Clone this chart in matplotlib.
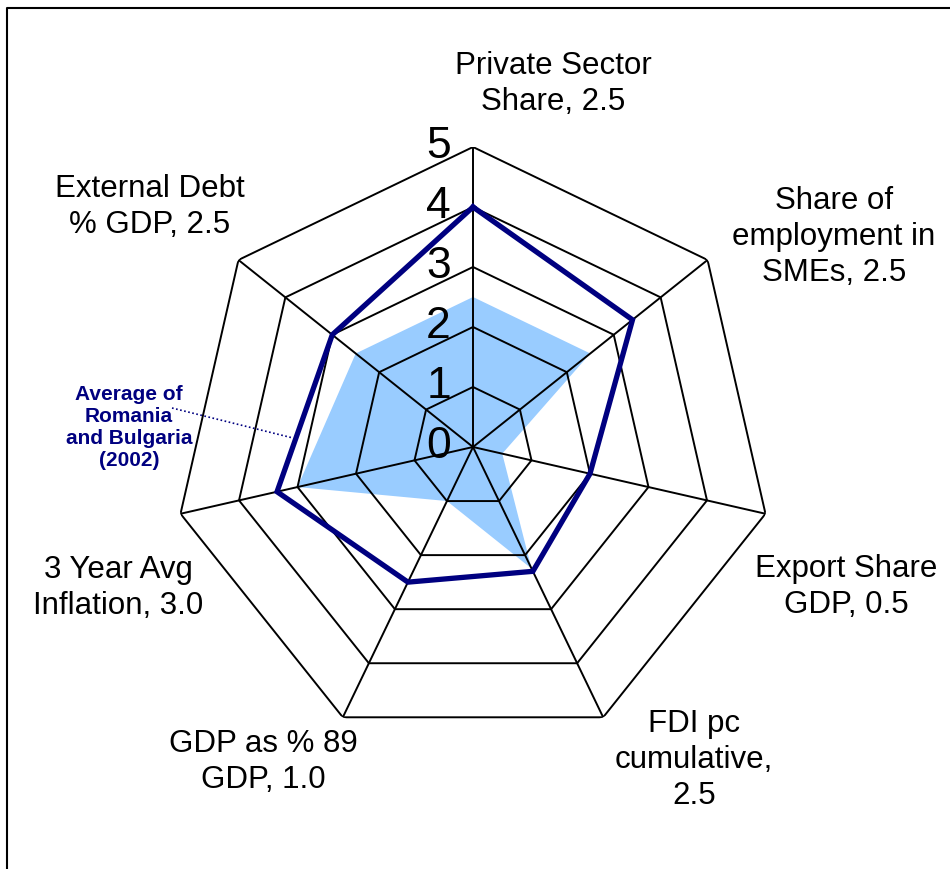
import matplotlib
matplotlib.use("Agg")
import matplotlib.pyplot as plt
import numpy as np
from matplotlib.lines import Line2D

plt.rcParams['font.family'] = ['Liberation Sans', 'DejaVu Sans']

# data
categories = ["Private Sector\nShare, 2.5",
              "Share of\nemployment in\nSMEs, 2.5",
              "Export Share\nGDP, 0.5",
              "FDI pc\ncumulative,\n2.5",
              "GDP as % 89\nGDP, 1.0",
              "3 Year Avg\nInflation, 3.0",
              "External Debt\n% GDP, 2.5"]
country = [2.5, 2.5, 0.5, 2.25, 1.0, 3.0, 2.5]
avg_ro_bg = [4.0, 3.4, 2.0, 2.3, 2.5, 3.35, 3.0]
rings = [0, 1, 2, 3, 4, 5]
series_label = "Average of\nRomania\nand Bulgaria\n(2002)"

# label centres in pixels (x, y from top)
label_px = [(553, 84), (834, 237), (846, 587), (694, 760),
            (263, 762), (118, 588), (150, 207)]

W, H = 950, 869
fig = plt.figure(figsize=(W / 100, H / 100), dpi=100)

cx, cy, R = 473, 447, 300
ax = fig.add_axes([(cx - R) / W, 1 - (cy + R) / H, 2 * R / W, 2 * R / H],
                  projection='polar')
ax.set_theta_offset(np.pi / 2)
ax.set_theta_direction(-1)
ax.set_ylim(0, 5)
ax.grid(False)
ax.set_xticks([])
ax.set_yticks([])
ax.spines['polar'].set_visible(False)
ax.patch.set_visible(False)

n = len(categories)
theta = np.arange(n) * 2 * np.pi / n
tc = np.append(theta, theta[0])

def closed(v):
    return list(v) + [v[0]]

# light blue filled series
ax.fill(tc, closed(country), color='#99CCFF', lw=0, zorder=1)

# polygon grid
for r in rings[1:]:
    ax.plot(tc, [r] * (n + 1), color='black', lw=1.4, zorder=2)
for t in theta:
    ax.plot([t, t], [0, rings[-1]], color='black', lw=1.4, zorder=2)

# navy series
ax.plot(tc, closed(avg_ro_bg), color='#000080', lw=3.8, zorder=3,
        solid_joinstyle='miter')

# radial tick labels
for r in rings:
    ax.annotate(str(r), xy=(0, r), xytext=(-16, 0), textcoords='offset points',
                ha='right', va='center', fontsize=32, zorder=4)

# category labels
for lab, (x, y) in zip(categories, label_px):
    fig.text(x / W, 1 - y / H, lab, ha='center', va='center',
             fontsize=22.5, linespacing=1.28)

# series callout
fig.text(129 / W, 1 - 428 / H, series_label, ha='center', va='center',
         fontsize=15, fontweight='bold', color='#000080', linespacing=1.2)
fig.add_artist(Line2D([172 / W, 293 / W], [1 - 408 / H, 1 - 438 / H],
                      transform=fig.transFigure, color='#000080', lw=1.2,
                      linestyle=(0, (1, 1.5))))

# frame (top and left visible)
fig.add_artist(Line2D([7 / W, 7 / W, 1.0], [0.0, 1 - 8 / H, 1 - 8 / H],
                      transform=fig.transFigure, color='black', lw=1.5))

fig.savefig("out.png", dpi=100)
